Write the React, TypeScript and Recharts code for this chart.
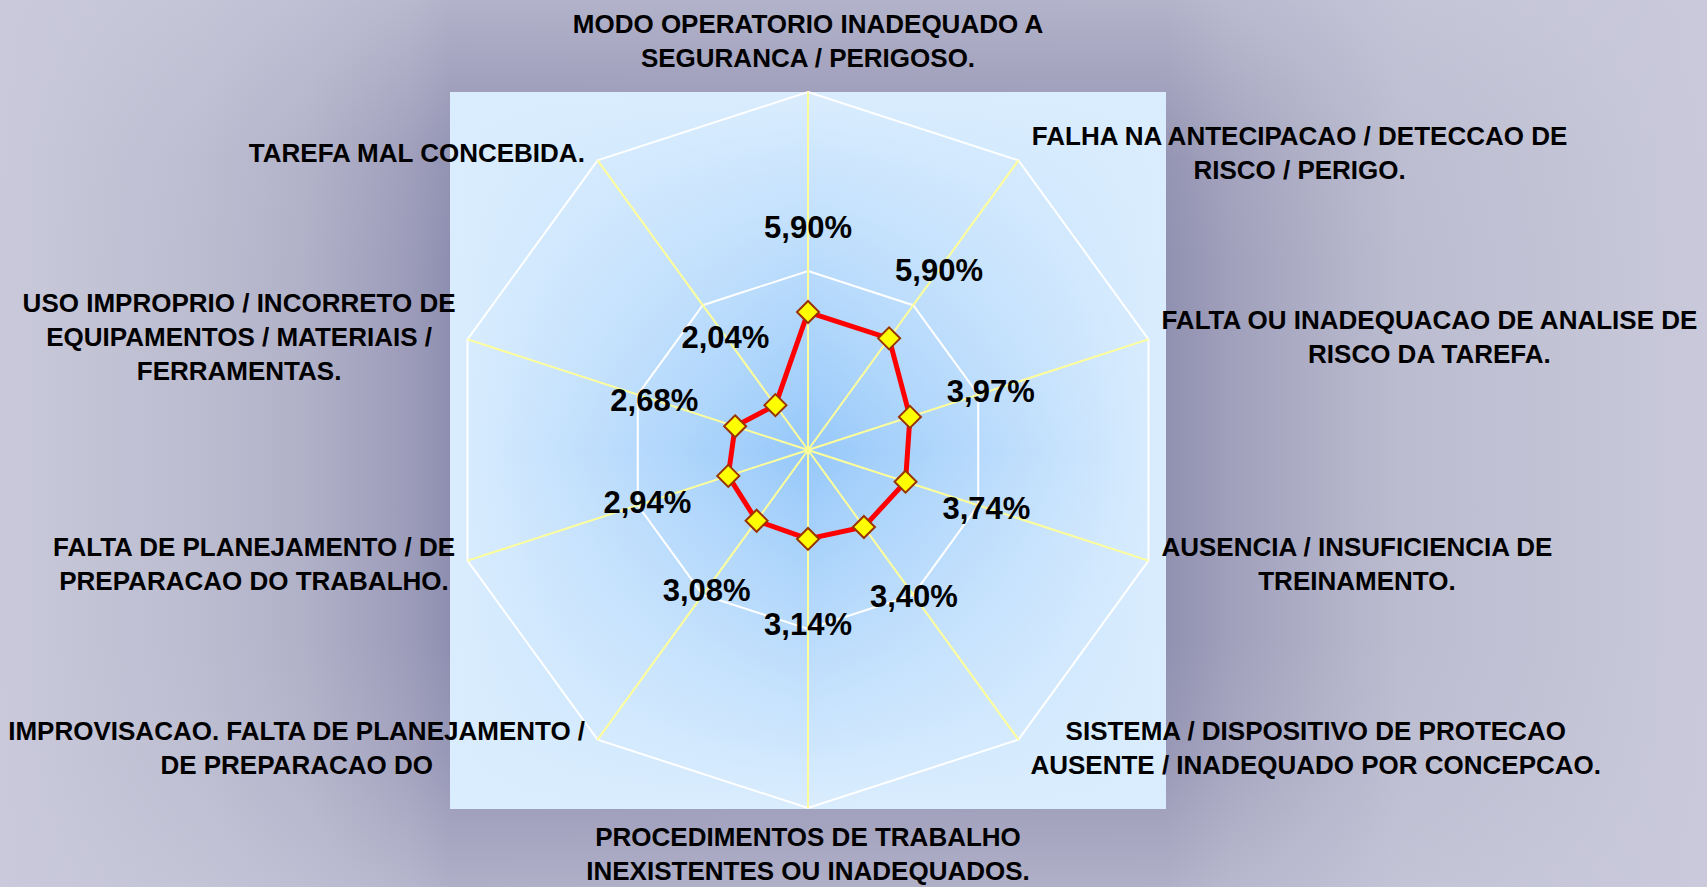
import React from "react";
import { RadarChart, Radar, PolarGrid, PolarAngleAxis, PolarRadiusAxis } from "recharts";

const categories = [
  "MODO OPERATORIO INADEQUADO A\nSEGURANCA / PERIGOSO.",
  "FALHA NA ANTECIPACAO / DETECCAO DE\nRISCO / PERIGO.",
  "FALTA OU INADEQUACAO DE ANALISE DE\nRISCO DA TAREFA.",
  "AUSENCIA / INSUFICIENCIA DE\nTREINAMENTO.",
  "SISTEMA / DISPOSITIVO DE PROTECAO\nAUSENTE / INADEQUADO POR CONCEPCAO.",
  "PROCEDIMENTOS DE TRABALHO\nINEXISTENTES OU INADEQUADOS.",
  "IMPROVISACAO. FALTA DE PLANEJAMENTO /\nDE PREPARACAO DO",
  "FALTA DE PLANEJAMENTO / DE\nPREPARACAO DO TRABALHO.",
  "USO IMPROPRIO / INCORRETO DE\nEQUIPAMENTOS / MATERIAIS /\nFERRAMENTAS.",
  "TAREFA MAL CONCEBIDA.",
];

// percent values (the radius axis is logarithmic, 1% .. 100%)
const percents = [5.9, 5.9, 3.97, 3.74, 3.4, 3.14, 3.08, 2.94, 2.68, 2.04];
const radiusTicks = [1, 10, 100];

const data = categories.map((c, i) => ({ category: c, pct: percents[i] }));

const W = 1707;
const H = 887;
const CX = 808;
const CY = 450;
const R = 358;
const FONT = '"Liberation Sans", Arial, sans-serif';
const LABEL_SIZE = 26;
const VALUE_SIZE = 31;
const LH = 34;

let measureCtx: CanvasRenderingContext2D | null = null;
function textWidth(s: string, font: string) {
  if (!measureCtx) measureCtx = document.createElement("canvas").getContext("2d");
  if (!measureCtx) return s.length * 16;
  measureCtx.font = font;
  return measureCtx.measureText(s).width;
}

function fmt(v: number) {
  return v.toFixed(2).replace(".", ",") + "%";
}

function CategoryTick(props: any) {
  const lines = String(props.payload.value).split("\n");
  const n = lines.length;
  // snap back onto the outer vertex of the web
  const ux = props.x - CX;
  const uy = props.y - CY;
  const ul = Math.hypot(ux, uy) || 1;
  const x = CX + (ux / ul) * R;
  const y = CY + (uy / ul) * R;
  const maxW = Math.max(...lines.map((l) => textWidth(l, `bold ${LABEL_SIZE}px ${FONT}`)));
  let tx = x;
  let midY = y;
  if (Math.abs(x - CX) < 5) {
    midY = y < CY ? y - 34 - ((n - 1) * LH) / 2 : y + 29 + ((n - 1) * LH) / 2;
  } else {
    tx = x > CX ? x + 12 + maxW / 2 : x - 12 - maxW / 2;
    midY = y + ((y - CY) / R) * 10;
  }
  const first = midY - ((n - 1) * LH) / 2;
  return (
    <text textAnchor="middle" fontFamily={FONT} fontWeight="bold" fontSize={LABEL_SIZE} fill="#000">
      {lines.map((l, i) => (
        <tspan key={i} x={tx} y={first + i * LH + LABEL_SIZE * 0.36}>
          {l}
        </tspan>
      ))}
    </text>
  );
}

function DiamondDot(props: any) {
  const { cx, cy, payload, index } = props;
  const dx = cx - CX;
  const dy = cy - CY;
  const d = Math.hypot(dx, dy) || 1;
  const lx = cx + (dx / d) * 85;
  const ly = cy + (dy / d) * 85;
  const s = 11;
  return (
    <g key={index}>
      <path
        d={`M${cx},${cy - s}L${cx + s},${cy}L${cx},${cy + s}L${cx - s},${cy}Z`}
        fill="#ffff00"
        stroke="#993300"
        strokeWidth={2}
      />
      <text x={lx} y={ly + VALUE_SIZE * 0.36} textAnchor="middle" fontFamily={FONT} fontWeight="bold" fontSize={VALUE_SIZE} fill="#000">
        {fmt(payload.pct)}
      </text>
    </g>
  );
}

export default function App() {
  return (
    <div
      style={{
        position: "relative",
        width: W,
        height: H,
        overflow: "hidden",
        background:
          "linear-gradient(to bottom, rgba(202,202,220,0.6) 0%, rgba(202,202,220,0.3) 10%, rgba(202,202,220,0.08) 18%, rgba(202,202,220,0) 30%, rgba(202,202,220,0) 72%, rgba(202,202,220,0.15) 85%, rgba(202,202,220,0.3) 91%, rgba(202,202,220,0.55) 100%)," +
          "linear-gradient(to right, #c9c9db 0%, #bcbcd0 12%, #b0b0c8 18%, #9c9cba 24%, #8e8eb0 26.4%, #9090b0 68.3%, #a0a0bc 72%, #bcbcd0 82%, #c9c9db 100%)",
      }}
    >
      <style>{`body{margin:0}.recharts-polar-grid-angle line{stroke:#ffff99}`}</style>
      <div
        style={{
          position: "absolute",
          left: CX - R,
          top: CY - R,
          width: 2 * R,
          height: 2 * R + 1,
          background:
            "linear-gradient(to bottom, rgba(218,237,254,1) 0%, rgba(218,237,254,0) 50%, rgba(218,237,254,1) 100%)," +
            "linear-gradient(to right, #daedfe 0%, #96c8fa 50%, #daedfe 100%)",
        }}
      />
      <div style={{ position: "absolute", left: 0, top: 0 }}>
        <RadarChart width={W} height={H} data={data} cx={CX} cy={CY} outerRadius={R} margin={{ top: 0, right: 0, bottom: 0, left: 0 }}>
          <PolarGrid gridType="polygon" stroke="#ffffff" strokeWidth={2} />
          <PolarAngleAxis dataKey="category" tick={<CategoryTick />} tickLine={false} axisLine={false} />
          <PolarRadiusAxis scale="log" domain={[1, 100]} ticks={radiusTicks} tick={false} axisLine={false} angle={90} />
          <Radar
            dataKey="pct"
            stroke="#ff0000"
            strokeWidth={5}
            fill="none"
            fillOpacity={0}
            dot={<DiamondDot />}
            isAnimationActive={false}
          />
        </RadarChart>
      </div>
    </div>
  );
}
